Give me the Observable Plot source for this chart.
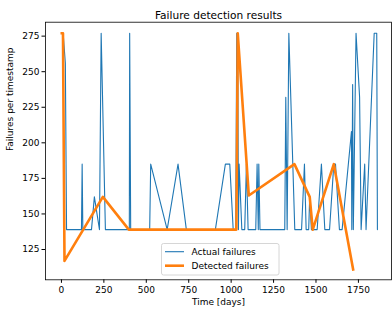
<!DOCTYPE html>
<html>
<head>
<meta charset="utf-8">
<script src="https://cdn.jsdelivr.net/npm/d3@7"></script>
<script src="https://cdn.jsdelivr.net/npm/@observablehq/plot@0.6"></script>
<style>
  html, body { margin: 0; padding: 0; background: #fff; }
  #wrap { position: relative; width: 392px; height: 309px; font-family: "DejaVu Sans", sans-serif; }
  #legend { position: absolute; left: 0; top: 0; pointer-events: none; }
</style>
</head>
<body>
<div id="wrap"></div>
<script>
// Actual failures (day, failures)
const actualDays = [3, 10, 23, 30, 118, 122, 126, 177, 194, 224, 234, 259, 400, 402, 408, 520, 526, 623, 687, 736, 907, 966, 992, 1012, 1027, 1033, 1039, 1043, 1047, 1063, 1080, 1090, 1100, 1145, 1153, 1160, 1163, 1170, 1316, 1322, 1330, 1340, 1375, 1415, 1432, 1442, 1457, 1463, 1473, 1507, 1532, 1552, 1580, 1605, 1615, 1638, 1654, 1709, 1711, 1716, 1720, 1736, 1757, 1766, 1787, 1795, 1843, 1858, 1862];
const actualValues = [277, 277, 256, 139, 139, 185, 139, 139, 162, 139, 277, 139, 139, 277, 139, 139, 185, 139, 185, 139, 139, 185, 185, 139, 139, 277, 277, 139, 185, 139, 139, 185, 139, 139, 185, 139, 185, 139, 139, 232, 139, 277, 139, 139, 185, 139, 139, 162, 139, 139, 185, 139, 139, 185, 185, 139, 139, 208, 139, 241, 139, 277, 232, 139, 185, 139, 277, 277, 139];

// Detected failures (day, failures)
const detectedDays = [2, 9, 18, 244, 397, 1031, 1039, 1104, 1373, 1463, 1481, 1605, 1719];
const detectedValues = [277, 277, 117, 162, 139, 139, 277, 163, 185, 162, 139, 185, 111];

const xTicks = [0, 250, 500, 750, 1000, 1250, 1500, 1750];
const yTicks = [125, 150, 175, 200, 225, 250, 275];

const titleText = "Failure detection results";
const xLabel = "Time [days]";
const yLabel = "Failures per timestamp";
const seriesNames = ["Actual failures", "Detected failures"];
const colors = ["#1f77b4", "#ff7f0e"];

const actual = actualDays.map((d, i) => ({t: d, v: actualValues[i]}));
const detected = detectedDays.map((d, i) => ({t: d, v: detectedValues[i]}));

const chart = Plot.plot({
  width: 392,
  height: 309,
  marginLeft: 45,
  marginRight: 1,
  marginTop: 21.7,
  marginBottom: 29.7,
  style: {fontFamily: "DejaVu Sans", fontSize: "9px", color: "#000", background: "#fff"},
  x: {domain: [-94, 1945], label: null},
  y: {domain: [103.7, 284.8], label: null},
  marks: [
    Plot.line(actual, {x: "t", y: "v", stroke: colors[0], strokeWidth: 1.1, strokeLinejoin: "round"}),
    Plot.line(detected, {x: "t", y: "v", stroke: colors[1], strokeWidth: 2.6, strokeLinejoin: "round", strokeLinecap: "square"}),
    Plot.frame({stroke: "#000", strokeWidth: 0.8}),
    Plot.axisX({ticks: xTicks, tickSize: 3.5, tickPadding: 3.5, tickFormat: d => String(d), label: null, fontSize: 9}),
    Plot.axisY({ticks: yTicks, tickSize: 3.5, tickPadding: 2.5, tickFormat: d => String(d), label: null, fontSize: 9}),
    Plot.text([titleText], {frameAnchor: "top", dy: -11, fontSize: 10.6, fill: "#000"}),
    Plot.text([xLabel], {frameAnchor: "bottom", dy: 25.5, fontSize: 9, fill: "#000"}),
    Plot.text([yLabel], {frameAnchor: "left", dx: -35, rotate: -90, fontSize: 9, fill: "#000"})
  ]
});

const wrap = document.getElementById("wrap");
wrap.appendChild(chart);

// Legend overlay
const ns = "http://www.w3.org/2000/svg";
const leg = document.createElementNS(ns, "svg");
leg.setAttribute("id", "legend");
leg.setAttribute("width", 392);
leg.setAttribute("height", 309);
const box = document.createElementNS(ns, "rect");
box.setAttribute("x", 161.5); box.setAttribute("y", 243.5);
box.setAttribute("width", 117.5); box.setAttribute("height", 31.5);
box.setAttribute("rx", 2);
box.setAttribute("fill", "rgba(255,255,255,0.8)");
box.setAttribute("stroke", "#cccccc");
box.setAttribute("stroke-width", 0.8);
leg.appendChild(box);
const rows = [251.7, 265.7];
const widths = [1.1, 2.6];
seriesNames.forEach((name, i) => {
  const ln = document.createElementNS(ns, "line");
  ln.setAttribute("x1", 165); ln.setAttribute("x2", 184);
  ln.setAttribute("y1", rows[i]); ln.setAttribute("y2", rows[i]);
  ln.setAttribute("stroke", colors[i]);
  ln.setAttribute("stroke-width", widths[i]);
  leg.appendChild(ln);
  const tx = document.createElementNS(ns, "text");
  tx.setAttribute("x", 191.5); tx.setAttribute("y", rows[i] + 3.2);
  tx.setAttribute("font-family", "DejaVu Sans");
  tx.setAttribute("font-size", "9px");
  tx.textContent = name;
  leg.appendChild(tx);
});
wrap.appendChild(leg);
</script>
</body>
</html>
